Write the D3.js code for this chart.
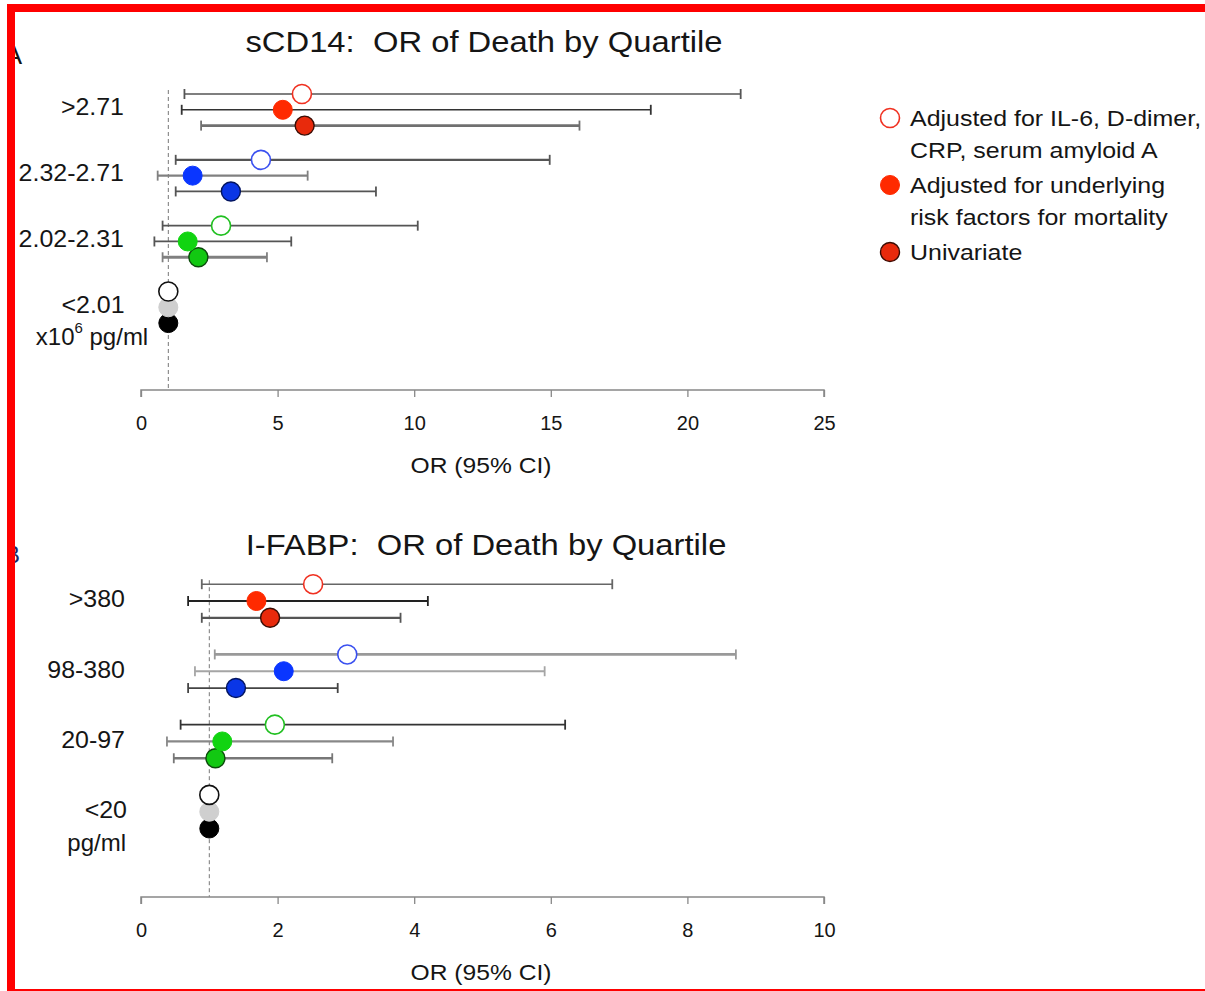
<!DOCTYPE html>
<html>
<head>
<meta charset="utf-8">
<script src="https://cdn.jsdelivr.net/npm/d3@7"></script>
<style>
  html, body { margin: 0; padding: 0; background: #fff; }
  svg { display: block; font-family: "Liberation Sans", Arial, Helvetica, sans-serif; }
  svg text { white-space: pre; }
</style>
</head>
<body>
<svg id="chart" width="1205" height="991"></svg>
<script>
// ---- data -------------------------------------------------------------
const models = ["open", "adjusted", "univariate"];
const legendLines = [
  ["Adjusted for IL-6, D-dimer,", "CRP, serum amyloid A"],
  ["Adjusted for underlying", "risk factors for mortality"],
  ["Univariate"]
];

const scd14Title = "sCD14:  OR of Death by Quartile";
const scd14Categories = [">2.71", "2.32-2.71", "2.02-2.31", "<2.01"];
const scd14Unit = ["x10", "6", " pg/ml"];
const scd14OR    = [[5.89, 5.19, 5.99], [4.39, 1.89, 3.29], [2.93, 1.71, 2.10], [1, 1, 1]];
const scd14Lower = [[1.59, 1.49, 2.20], [1.27, 0.61, 1.27], [0.79, 0.49, 0.79], [null, null, null]];
const scd14Upper = [[21.95, 18.66, 16.05], [14.96, 6.10, 8.60], [10.13, 5.50, 4.61], [null, null, null]];
const scd14Ticks = [0, 5, 10, 15, 20, 25];

const ifabpTitle = "I-FABP:  OR of Death by Quartile";
const ifabpCategories = [">380", "98-380", "20-97", "<20"];
const ifabpUnit = ["pg/ml"];
const ifabpOR    = [[2.52, 1.69, 1.89], [3.02, 2.09, 1.39], [1.96, 1.19, 1.09], [1, 1, 1]];
const ifabpLower = [[0.89, 0.69, 0.89], [1.08, 0.79, 0.69], [0.58, 0.38, 0.48], [null, null, null]];
const ifabpUpper = [[6.90, 4.20, 3.80], [8.71, 5.91, 2.88], [6.21, 3.69, 2.80], [null, null, null]];
const ifabpTicks = [0, 2, 4, 6, 8, 10];

const axisTitle = "OR (95% CI)";

// ---- styles -----------------------------------------------------------
// marker look per quartile group (rows) and model (columns)
const markerStyle = [
  [{fill: "#fff", stroke: "#f03020", sw: 1.6}, {fill: "#ff2a00", stroke: "#ff2a00", sw: 1}, {fill: "#e82a0c", stroke: "#3a0c04", sw: 1.4}],
  [{fill: "#fff", stroke: "#3a50f0", sw: 1.6}, {fill: "#0a36ff", stroke: "#0a36ff", sw: 1}, {fill: "#0a36e6", stroke: "#021460", sw: 1.4}],
  [{fill: "#fff", stroke: "#22c022", sw: 1.6}, {fill: "#11d411", stroke: "#11d411", sw: 1}, {fill: "#12c812", stroke: "#0c4a0c", sw: 1.4}],
  [{fill: "#fff", stroke: "#111", sw: 1.6}, {fill: "#cfcfcf", stroke: "#cfcfcf", sw: 1}, {fill: "#000", stroke: "#000", sw: 1}]
];
const scd14BarStyle = [
  [["#555", 1.6], ["#333", 1.6], ["#707070", 2.8]],
  [["#555", 2.2], ["#808080", 2.2], ["#555", 1.8]],
  [["#555", 1.8], ["#555", 1.8], ["#808080", 2.8]]
];
const ifabpBarStyle = [
  [["#666", 1.6], ["#222", 1.8], ["#555", 2.2]],
  [["#999", 2.8], ["#a5a5a5", 2.2], ["#444", 1.8]],
  [["#333", 1.8], ["#888", 2.2], ["#777", 2.4]]
];

const svg = d3.select("#chart");

// horizontally stretched text helper (the typeface here is set a bit wide)
function wideText(parent, x, y, str, size, sx, anchor) {
  return parent.append("text")
    .attr("transform", `translate(${x},${y}) scale(${sx},1)`)
    .attr("text-anchor", anchor || "start")
    .attr("dominant-baseline", "central")
    .attr("font-size", size).attr("fill", "#151515").text(str);
}

// cropped panel letters at the left margin (partly hidden by the frame)
svg.append("text").attr("x", 22).attr("y", 64).attr("text-anchor", "end")
  .attr("font-size", 26).attr("fill", "#111").text("A");
svg.append("text").attr("x", 20).attr("y", 563).attr("text-anchor", "end")
  .attr("font-size", 24).attr("fill", "#1a2a66").text("B");

function drawPanel(cfg) {
  const g = svg.append("g");
  const x = d3.scaleLinear().domain(cfg.domain).range([141, 824]);
  const y = d3.scalePoint().domain(cfg.categories).range(cfg.yRange);

  // title
  wideText(g, cfg.titleX, cfg.titleY, cfg.title, 29, 1.13, "middle");

  // reference line at OR = 1
  g.append("line")
    .attr("x1", x(1)).attr("x2", x(1))
    .attr("y1", y(cfg.categories[0]) - cfg.step - 4).attr("y2", cfg.axisY)
    .attr("stroke", "#777").attr("stroke-width", 1).attr("stroke-dasharray", "4,3");

  // x axis
  const axis = d3.axisBottom(x).tickValues(cfg.ticks).tickSize(7).tickPadding(19).tickFormat(d3.format("d"));
  const ax = g.append("g").attr("transform", `translate(0,${cfg.axisY})`).call(axis);
  ax.select(".domain").attr("stroke", "#888").attr("stroke-width", 1.5)
    .attr("d", `M${x(cfg.domain[0])},7V0H${x(cfg.domain[1])}V7`);
  ax.selectAll(".tick line").attr("stroke", "#888").attr("stroke-width", 1.3);
  ax.selectAll(".tick text").attr("font-size", 20).attr("fill", "#151515")
    .attr("font-family", "Liberation Sans, Arial, sans-serif");

  wideText(g, 481, cfg.axisY + 75, axisTitle, 22, 1.12, "middle");

  // category labels
  cfg.categories.forEach((c, i) => {
    const last = i === cfg.categories.length - 1;
    wideText(g, last ? cfg.refLabelX : cfg.labelX, y(c) + cfg.labelDy, c, 24, 1.04,
      last ? cfg.refAnchor : "end");
    if (last) {
      const u = wideText(g, cfg.unitX, y(c) + cfg.labelDy + 32, "", 24, 1.0, cfg.refAnchor);
      u.append("tspan").text(cfg.unit[0]);
      if (cfg.unit.length > 1) {
        u.append("tspan").attr("font-size", 15).attr("dy", -9).text(cfg.unit[1]);
        u.append("tspan").attr("dy", 9).text(cfg.unit[2]);
      }
    }
  });

  // rows: error bars then markers
  const rows = [];
  cfg.categories.forEach((c, i) => {
    models.forEach((m, j) => {
      rows.push({i, j, cy: y(c) + (j - 1) * cfg.step,
        or: cfg.or[i][j], lo: cfg.lower[i][j], hi: cfg.upper[i][j]});
    });
  });

  const bars = g.append("g").selectAll("g").data(rows.filter(r => r.lo != null)).join("g")
    .attr("stroke", r => cfg.barStyle[r.i][r.j][0])
    .attr("stroke-width", r => cfg.barStyle[r.i][r.j][1]);
  bars.append("line").attr("x1", r => x(r.lo)).attr("x2", r => x(r.hi))
    .attr("y1", r => r.cy).attr("y2", r => r.cy);
  bars.append("line").attr("x1", r => x(r.lo)).attr("x2", r => x(r.lo))
    .attr("y1", r => r.cy - 5).attr("y2", r => r.cy + 5).attr("stroke-width", 1.8);
  bars.append("line").attr("x1", r => x(r.hi)).attr("x2", r => x(r.hi))
    .attr("y1", r => r.cy - 5).attr("y2", r => r.cy + 5).attr("stroke-width", 1.8);

  // univariate drawn first so the stacked markers overlap downward-up
  const order = [...rows].sort((a, b) => (a.i - b.i) || (b.j - a.j));
  g.append("g").selectAll("circle").data(order).join("circle")
    .attr("cx", r => x(r.or)).attr("cy", r => r.cy).attr("r", 9.5)
    .attr("fill", r => markerStyle[r.i][r.j].fill)
    .attr("stroke", r => markerStyle[r.i][r.j].stroke)
    .attr("stroke-width", r => markerStyle[r.i][r.j].sw);
}

drawPanel({
  title: scd14Title, titleX: 484, titleY: 42,
  categories: scd14Categories, unit: scd14Unit,
  or: scd14OR, lower: scd14Lower, upper: scd14Upper,
  domain: [0, 25], ticks: scd14Ticks, barStyle: scd14BarStyle,
  yRange: [109.8, 307.3], step: 15.8, axisY: 390,
  labelX: 124, labelDy: -3, refLabelX: 93, unitX: 92, refAnchor: "middle"
});

drawPanel({
  title: ifabpTitle, titleX: 486, titleY: 545,
  categories: ifabpCategories, unit: ifabpUnit,
  or: ifabpOR, lower: ifabpLower, upper: ifabpUpper,
  domain: [0, 10], ticks: ifabpTicks, barStyle: ifabpBarStyle,
  yRange: [601, 811.7], step: 16.8, axisY: 897,
  labelX: 125, labelDy: -2, refLabelX: 127, unitX: 126, refAnchor: "end"
});

// legend
const legend = svg.append("g");
const legendY = [118, 185, 252];
legendLines.forEach((lines, k) => {
  const st = markerStyle[0][k];
  legend.append("circle").attr("cx", 890).attr("cy", legendY[k]).attr("r", 9.5)
    .attr("fill", st.fill).attr("stroke", st.stroke).attr("stroke-width", st.sw);
  lines.forEach((ln, l) => {
    wideText(legend, 910, legendY[k] + l * 32, ln, 23, 1.085, "start");
  });
});

// page margin and red frame
svg.append("rect").attr("x", 0).attr("y", 0).attr("width", 7).attr("height", 991).attr("fill", "#fff");
svg.append("rect").attr("x", 7).attr("y", 4).attr("width", 1198).attr("height", 8).attr("fill", "#ff0000");
svg.append("rect").attr("x", 7).attr("y", 4).attr("width", 8).attr("height", 987).attr("fill", "#ff0000");
svg.append("rect").attr("x", 7).attr("y", 989).attr("width", 1198).attr("height", 2).attr("fill", "#ff0000");
</script>
</body>
</html>
